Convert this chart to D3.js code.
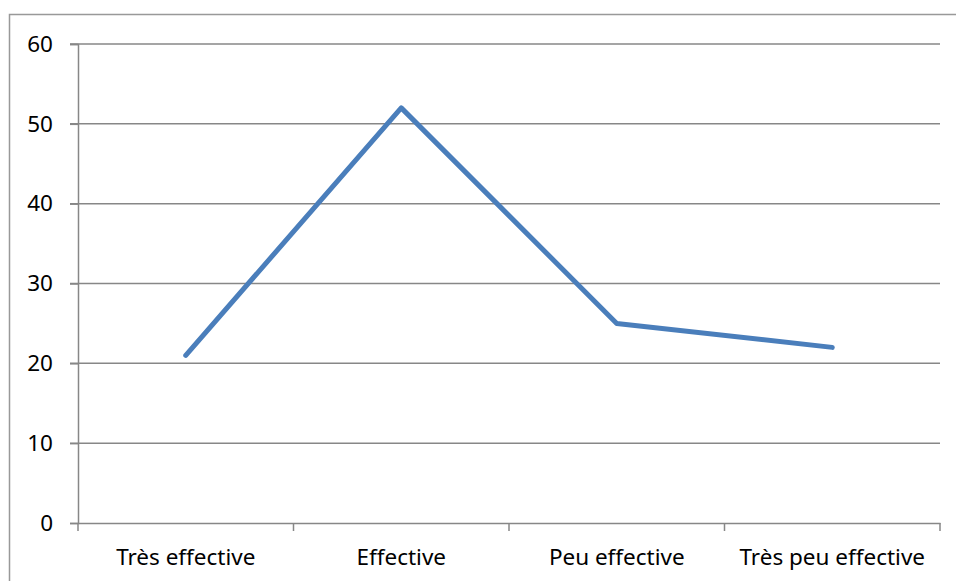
<!DOCTYPE html>
<html><head><meta charset="utf-8">
<script src="https://cdn.jsdelivr.net/npm/d3@7"></script>
<style>body{margin:0;background:#fff}svg{display:block}</style>
</head><body>
<svg id="c" width="956" height="581"></svg>
<script>
const categories = ["Très effective", "Effective", "Peu effective", "Très peu effective"];
const values = [21, 52, 25, 22];
const yTicks = [0, 10, 20, 30, 40, 50, 60];

const svg = d3.select("#c");
const L = 78, R = 940, T = 44, B = 523;
const font = "'Noto Sans', 'Open Sans', sans-serif";

svg.append("rect").attr("x", 9.5).attr("y", 14.5).attr("width", 960).attr("height", 600)
  .attr("fill", "none").attr("stroke", "#999").attr("stroke-width", 1.5);

const x = d3.scaleBand().domain(categories).range([L, R]);
const y = d3.scaleLinear().domain([0, 60]).range([B, T]);

// gridlines
svg.append("g").selectAll("line").data(yTicks.filter(d => d > 0)).join("line")
  .attr("x1", L - 8).attr("x2", R).attr("y1", d => y(d)).attr("y2", d => y(d))
  .attr("stroke", "#878787").attr("stroke-width", 1.5);

// y axis
const ya = svg.append("g").attr("transform", `translate(${L},0)`)
  .call(d3.axisLeft(y).tickValues(yTicks).tickSize(8).tickPadding(17));
ya.select(".domain").attr("stroke", "#878787").attr("stroke-width", 1.5);
ya.selectAll(".tick line").attr("stroke", "#878787").attr("stroke-width", 1.5);
ya.selectAll("text").attr("font-family", font).attr("font-size", 22.5).attr("fill", "#000");

// x axis
const xa = svg.append("g").attr("transform", `translate(0,${B})`)
  .call(d3.axisBottom(x).tickSize(0).tickPadding(26));
xa.select(".domain").attr("stroke", "#878787").attr("stroke-width", 1.5);
xa.selectAll("text").attr("font-family", font).attr("font-size", 22.5).attr("fill", "#000");
const bounds = categories.map(c => x(c)).concat([R]);
xa.append("g").selectAll("line").data(bounds).join("line")
  .attr("x1", d => d).attr("x2", d => d).attr("y1", 0).attr("y2", 8)
  .attr("stroke", "#878787").attr("stroke-width", 1.5);

// line
const line = d3.line().x((d, i) => x(categories[i]) + x.bandwidth() / 2).y(d => y(d));
svg.append("path").datum(values).attr("d", line)
  .attr("fill", "none").attr("stroke", "#4a7ebb").attr("stroke-width", 5)
  .attr("stroke-linecap", "round").attr("stroke-linejoin", "round");
</script>
</body></html>
